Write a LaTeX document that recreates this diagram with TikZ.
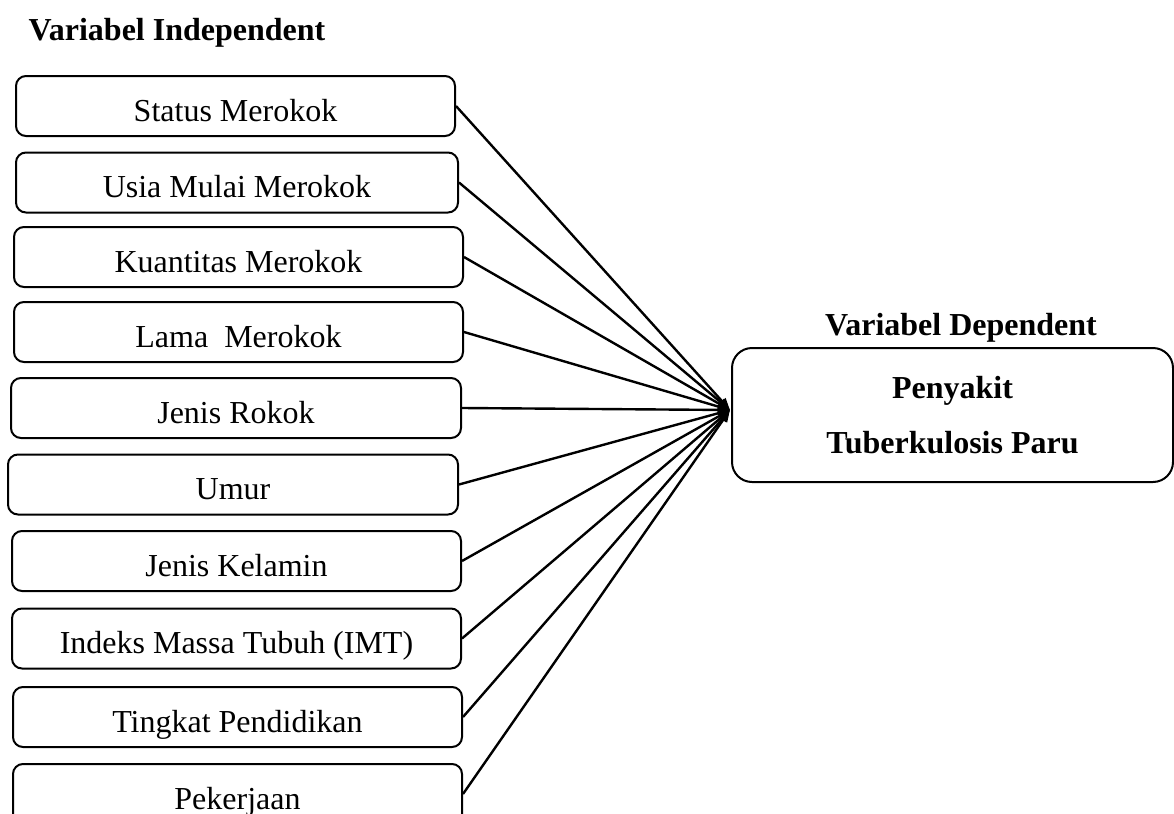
\documentclass[tikz,border=0pt]{standalone}
\usepackage{fontspec}
\setmainfont{Liberation Serif}
\usetikzlibrary{arrows.meta}

\tikzset{
  varbox/.style={draw, line width=1pt, rounded corners=5pt, inner sep=0pt,
    minimum height=30pt, text height=15pt, text depth=0pt,
    font=\fontsize{16}{19}\selectfont},
  depbox/.style={draw, line width=1pt, rounded corners=10pt, inner sep=0pt,
    minimum width=220.5pt, minimum height=67pt, align=center,
    font=\fontsize{16}{27.5}\selectfont\bfseries},
  heading/.style={font=\fontsize{16}{19}\selectfont\bfseries},
  link/.style={line width=1.2pt, -{Triangle[length=6pt,width=4.5pt]}}
}

\begin{document}
\begin{tikzpicture}[x=0.5pt,y=-0.5pt]
            \useasboundingbox (0,0) rectangle (1174,814);

            \node[heading] (indep) at (177,33) {Variabel Independent};
            \node[heading] (dep) at (961,328) {Variabel Dependent};

            % independent variables
            \node[varbox, minimum width=219.5pt] (status) at (235.5,106) {Status Merokok};
            \node[varbox, minimum width=221pt] (usia) at (237,182.5) {Usia Mulai Merokok};
            \node[varbox, minimum width=224.5pt] (kuantitas) at (238.5,257) {Kuantitas Merokok};
            \node[varbox, minimum width=224.5pt] (lama) at (238.5,332) {Lama\ \ Merokok};
            \node[varbox, minimum width=225pt] (rokok) at (236,408) {Jenis Rokok};
            \node[varbox, minimum width=225pt] (umur) at (233,484.5) {Umur};
            \node[varbox, minimum width=224.5pt] (kelamin) at (236.5,561) {Jenis Kelamin};
            \node[varbox, minimum width=224.5pt] (imt) at (236.5,638.5) {Indeks Massa Tubuh (IMT)};
            \node[varbox, minimum width=224.5pt] (pendidikan) at (237.5,717) {Tingkat Pendidikan};
            \node[varbox, minimum width=224.5pt] (pekerjaan) at (237.5,794) {Pekerjaan};

            % dependent variable
            \node[depbox] (tbparu) at (952.5,415) {Penyakit\\Tuberkulosis Paru};
            \coordinate (hub) at (730,410);

            \foreach \v in {status,usia,kuantitas,lama,rokok,umur,kelamin,imt,pendidikan,pekerjaan}
                \draw[link] (\v.east) -- (hub);
        \end{tikzpicture}
\end{document}
